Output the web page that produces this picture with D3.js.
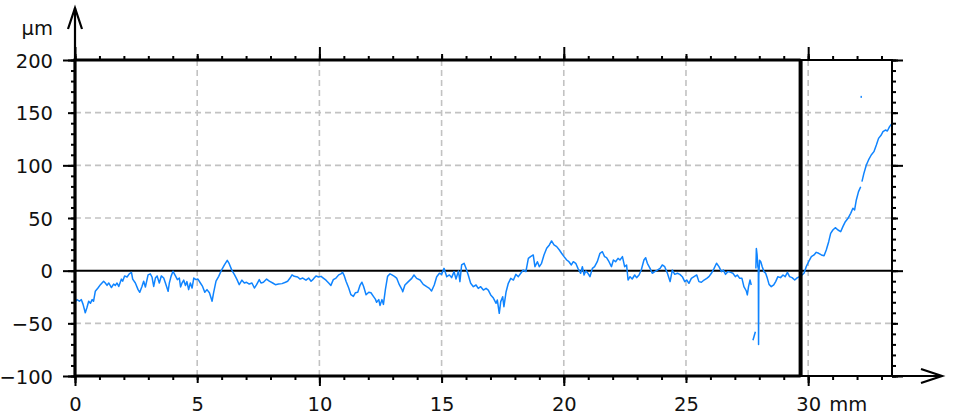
<!DOCTYPE html>
<html>
<head>
<meta charset="utf-8">
<script src="https://cdn.jsdelivr.net/npm/d3@7/dist/d3.min.js"></script>
<style>
  html, body { margin: 0; padding: 0; background: #fff; }
  svg { display: block; }
  svg text { font-family: "DejaVu Sans", Verdana, sans-serif; font-size: 19.5px; fill: #111; }
</style>
</head>
<body>
<svg id="chart" width="954" height="417"></svg>
<script>
// Surface profile: position along the trace (mm) and height (µm).
// A null height breaks the line where the trace drops out.
const profileX = [
  0.00,0.08,0.18,0.26,0.33,0.42,0.49,0.56,0.63,0.70,0.76,0.83,0.94,1.04,1.17,1.24,1.31,1.38,1.49,1.58,
  1.65,1.72,1.79,1.90,1.95,2.03,2.13,2.22,2.31,2.36,2.47,2.58,2.65,2.74,2.81,2.88,2.99,3.08,3.15,3.22,
  3.29,3.36,3.45,3.53,3.63,3.70,3.81,3.86,3.93,4.01,4.11,4.19,4.27,4.32,4.38,4.45,4.52,4.58,4.65,4.72,
  4.79,4.86,4.95,5.03,5.13,5.22,5.31,5.40,5.50,5.61,5.67,5.77,5.88,5.99,6.12,6.23,6.31,6.42,6.53,6.63,
  6.72,6.83,6.93,7.02,7.13,7.24,7.34,7.43,7.54,7.61,7.71,7.84,7.95,8.09,8.20,8.33,8.47,8.61,8.70,8.80,
  8.88,8.97,9.11,9.21,9.32,9.45,9.56,9.66,9.75,9.86,9.97,10.07,10.16,10.27,10.38,10.47,10.57,10.68,10.79,10.88,
  10.95,11.02,11.09,11.20,11.29,11.39,11.47,11.57,11.66,11.74,11.81,11.91,12.02,12.11,12.21,12.29,12.34,12.43,12.48,12.56,
  12.62,12.70,12.79,12.89,12.97,13.07,13.16,13.27,13.38,13.41,13.50,13.64,13.78,13.87,13.98,14.12,14.25,14.39,14.50,14.59,
  14.70,14.80,14.91,15.00,15.10,15.21,15.32,15.41,15.51,15.59,15.69,15.75,15.82,15.92,16.00,16.09,16.19,16.30,16.41,16.50,
  16.60,16.71,16.82,16.91,17.01,17.12,17.23,17.28,17.36,17.42,17.50,17.55,17.64,17.73,17.83,17.94,18.04,18.14,18.24,18.34,
  18.45,18.55,18.64,18.75,18.82,18.92,19.00,19.09,19.19,19.30,19.41,19.50,19.60,19.71,19.82,19.91,20.01,20.12,20.21,20.31,
  20.39,20.49,20.58,20.69,20.76,20.83,20.90,20.99,21.07,21.17,21.26,21.37,21.48,21.58,21.67,21.75,21.85,21.95,22.03,22.12,
  22.22,22.30,22.40,22.49,22.57,22.63,22.71,22.80,22.90,22.98,23.08,23.17,23.28,23.35,23.42,23.53,23.62,23.72,23.83,23.94,
  24.03,24.13,24.24,24.35,24.44,24.54,24.65,24.75,24.85,24.95,25.03,25.12,25.22,25.33,25.44,25.53,25.63,25.74,25.85,25.94,
  26.04,26.15,26.25,26.35,26.45,26.53,26.62,26.72,26.83,26.92,27.02,27.10,27.20,27.29,27.37,27.47,27.51,27.56,27.62,27.67,
  27.70,27.74,27.79,27.84,27.85,27.86,27.88,27.91,27.94,27.96,27.97,27.98,28.01,28.06,28.12,28.19,28.26,28.33,28.40,28.49,
  28.59,28.67,28.76,28.87,28.97,29.06,29.15,29.24,29.34,29.45,29.56,29.65,29.75,29.83,29.92,30.02,30.13,30.24,30.33,30.43,
  30.54,30.65,30.74,30.84,30.92,31.01,31.11,31.22,31.33,31.42,31.52,31.63,31.74,31.83,31.90,31.97,32.06,32.15,32.17,32.20,
  32.28,32.38,32.47,32.58,32.69,32.79,32.88,32.99,33.06,33.16,33.24,33.33,33.40,33.42
];
const profileY = [
  -30,-27.5,-29,-27.5,-32,-40,-35,-29,-31,-27.5,-29,-19.6,-16.5,-13.3,-10,-11.7,-14,-11.7,-16,-12.7,
  -14,-11.7,-15,-8,-10,-5,-6,-3,-1.6,-8,-11.7,-18,-20.5,-15,-10,-15.5,-4,-3,-6,-15,
  -7,-5,-11.7,-5,-7,-11.7,-19.6,-11.7,-5.4,-0.6,-5,-8.5,-7,-15.5,-11.7,-9,-14,-10.4,-18,-11.7,
  -16.5,-7,-8.5,-8,-11.7,-15,-20.5,-18,-21,-29,-21,-10,-5.4,0.3,5.7,9.8,6.6,0.3,-4,-8.5,
  -13.3,-9,-11.7,-11,-12.7,-11.7,-16.5,-13.3,-8.5,-11.7,-11,-8,-10,-11.7,-13.3,-12.7,-12.3,-11,-10,-7,
  -4,-5.4,-6,-8,-7,-9,-7,-10,-8,-5,-6,-5.4,-7,-9,-11.7,-14,-8.5,-7,-4,-3,
  -1.6,-5,-10,-16.5,-22.8,-24.4,-21,-20.5,-14,-11,-15,-22.8,-20.5,-21,-24.4,-27,-30,-27.5,-33,-27.5,
  -32,-18,-5.4,-3,-4,-5.4,-7,-13.3,-18,-20,-13.6,-10.4,-7.3,-4.1,-7.3,-8.9,-13,-15.2,-16.8,-19.3,
  -13.6,-5.7,-2.5,-3.5,2.2,-5.7,-4.1,-6.6,-0.9,-7.9,-0.3,-10.4,5.4,7,2.2,-4.1,-12,-15.2,-13.6,-16.8,
  -15.2,-18.4,-16.8,-18.4,-23,-26,-31,-27.8,-40.5,-29.4,-24.7,-34.2,-20,-12,-7.3,-8.9,-3.5,-5.7,-2.5,0.6,
  -0.9,11.7,13.3,14.9,3.8,8.5,3.8,7,14.9,21.2,24.4,28.2,24.4,22.8,19.6,16.5,13.3,10.1,8.5,5.4,
  8.5,7,2.2,-2.5,3.8,-4.1,-0.3,-2.5,-5.7,2.2,3.8,8.5,16.5,18,13.3,12.3,8.5,3.8,10.1,8.5,
  11.7,10.1,13.3,3.8,5.4,-8.9,-5.7,-7.9,-4.1,-6.6,-4.1,0.6,10.1,12.3,7,2.2,-2.5,-0.9,0.6,2.2,
  5.4,3.8,-2.5,-10.4,0.6,-3.5,-2.5,-3.5,-5.7,-10.4,-8.9,-12,-7.3,-5.7,-4.1,-10.4,-11,-8.9,-7.3,-5.7,
  -2.5,2.2,7,3.8,-0.9,0.6,-3.5,-0.9,-1.6,-2.5,-5.7,-4.1,-7.3,-7.3,-15.2,-19.3,-23,-15.2,-8.9,-13.6,
  null,-66,-62,-58,null,2,21,15,4,2,-70,-5,10,8.5,3.8,-0.9,-2.5,-7.3,-13,-15.2,
  -13.6,-10.4,-5.7,-6.6,-4.1,-5.7,-1.6,-5.7,-6.6,-8.9,-6.6,-5.7,-4.1,-2.5,3.8,8.5,13.3,14.9,17.4,16.5,
  14.9,14.2,19.6,27.5,35.4,38.6,40.8,38.6,37,41.8,46.5,49.7,54.4,59.2,57.6,67.1,75,79.7,null,84.5,
  92.4,100.3,105.1,109.8,113,119.3,125.6,128.8,132,133.5,132.6,136.7,138.9,138.3
];
// Isolated reading away from the trace
const strayX = [32.17];
const strayY = [165];

// Axis ranges, tick values and labels
const xDomain = [0, 33.43];
const yDomain = [-100, 200];
const xTicksMinor = d3.range(0, 34, 1);
const xTicksMid = [0, 5, 10, 15, 20, 25, 30];
const xTicksMajor = [0, 10, 20, 30];
const xLabels = [0, 5, 10, 15, 20, 25, 30];
const xUnit = "mm";
const yTicksMinor = d3.range(-100, 201, 10);
const yTicksMid = [-100, -50, 0, 50, 100, 150, 200];
const yTicksMajor = [-100, 0, 100, 200];
const yLabels = [-100, -50, 0, 50, 100, 150, 200];
const yUnit = "µm";
const xGrid = [5, 10, 15, 20, 25, 30];
const yGrid = [-50, 50, 100, 150];
const cursorX = 29.69;   // evaluation limit marker (mm)

const svg = d3.select("#chart");
const L = 75, R = 892, T = 60, B = 376;
const x = d3.scaleLinear().domain(xDomain).range([L, R]);
const y = d3.scaleLinear().domain(yDomain).range([B, T]);

const ink = "#000";
const blue = "#0f84ff";

// dashed grid
const grid = svg.append("g").attr("stroke", "#c2c2c2").attr("stroke-width", 1.6)
  .attr("stroke-dasharray", "6,4");
grid.selectAll("line.gx").data(xGrid).join("line").attr("class", "gx")
  .attr("x1", d => x(d)).attr("x2", d => x(d)).attr("y1", T).attr("y2", B);
grid.selectAll("line.gy").data(yGrid).join("line").attr("class", "gy")
  .attr("x1", L).attr("x2", R).attr("y1", d => y(d)).attr("y2", d => y(d));

// zero reference line
svg.append("line").attr("x1", L).attr("x2", R).attr("y1", y(0)).attr("y2", y(0))
  .attr("stroke", ink).attr("stroke-width", 2);

// ticks: helper builds an axis with no domain path and no labels
function ticks(axisFn, scale, values, size, tx, ty) {
  const g = svg.append("g").attr("transform", `translate(${tx},${ty})`)
    .call(axisFn(scale).tickValues(values).tickSize(size).tickFormat(""));
  g.select(".domain").remove();
  g.selectAll(".tick line").attr("stroke", ink).attr("stroke-width", 2);
  return g;
}
ticks(d3.axisBottom, x, xTicksMinor, 4, 0, B);
ticks(d3.axisBottom, x, xTicksMid, 7, 0, B);
ticks(d3.axisBottom, x, xTicksMajor, 10, 0, B);
ticks(d3.axisTop, x, xTicksMinor, 4, 0, T);
ticks(d3.axisTop, x, xTicksMid, 6, 0, T);
ticks(d3.axisTop, x, xTicksMajor, 13, 0, T);
ticks(d3.axisLeft, y, yTicksMinor, 4, L, 0);
ticks(d3.axisLeft, y, yTicksMid, 7, L, 0);
ticks(d3.axisLeft, y, yTicksMajor, 12, L, 0);
ticks(d3.axisRight, y, yTicksMinor, 4, R, 0);
ticks(d3.axisRight, y, yTicksMid, 6, R, 0);
ticks(d3.axisRight, y, yTicksMajor, 11, R, 0);

// profile trace
const pts = profileX.map((v, i) => ({ x: v, y: profileY[i] }));
const line = d3.line().defined(d => d.y !== null).x(d => x(d.x)).y(d => y(d.y));
svg.append("path").datum(pts).attr("d", line)
  .attr("fill", "none").attr("stroke", blue).attr("stroke-width", 1.5)
  .attr("stroke-linejoin", "round");
svg.selectAll("rect.stray").data(strayX.map((v, i) => ({ x: v, y: strayY[i] })))
  .join("rect").attr("class", "stray")
  .attr("x", d => x(d.x) - 0.7).attr("y", d => y(d.y) - 1).attr("width", 1.4).attr("height", 2)
  .attr("fill", blue);

// plot frame
const frame = svg.append("g").attr("fill", "none").attr("stroke", ink);
frame.append("rect").attr("x", L).attr("y", T).attr("width", R - L).attr("height", B - T)
  .attr("stroke-width", 2);
frame.append("path")
  .attr("d", `M${x(cursorX)},${T}H${L}V${B}H${x(cursorX)}`)
  .attr("stroke-width", 3.2);
// cursor
frame.append("line").attr("x1", x(cursorX)).attr("x2", x(cursorX)).attr("y1", T - 1).attr("y2", B + 1)
  .attr("stroke-width", 4);

// axis arrows
const arrows = svg.append("g").attr("fill", "none").attr("stroke", ink).attr("stroke-width", 2.2)
  .attr("stroke-linejoin", "miter");
arrows.append("line").attr("x1", L).attr("x2", L).attr("y1", T).attr("y2", 8);
arrows.append("path").attr("d", `M${L - 7},29L${L},8L${L + 7},29`);
arrows.append("line").attr("x1", R).attr("x2", 942).attr("y1", B).attr("y2", B);
arrows.append("path").attr("d", `M921,369L942,${B}L921,383`);

// tick labels (font set in CSS so it wins over the axis defaults)
const xl = svg.append("g").attr("transform", `translate(0,${B})`)
  .call(d3.axisBottom(x).tickValues(xLabels).tickSize(0).tickPadding(21).tickFormat(d3.format("d")));
xl.select(".domain").remove();
xl.append("text").attr("x", x(30) + 21).attr("y", 21).attr("dy", "0.71em")
  .attr("text-anchor", "start").text(xUnit);

const yl = svg.append("g").attr("transform", `translate(${L},0)`)
  .call(d3.axisLeft(y).tickValues(yLabels).tickSize(0).tickPadding(22).tickFormat(d3.format("d")));
yl.select(".domain").remove();
yl.selectAll(".tick text").attr("dy", "0.36em");
svg.append("text").attr("x", 53).attr("y", 35).attr("text-anchor", "end").text(yUnit);
</script>
</body>
</html>
